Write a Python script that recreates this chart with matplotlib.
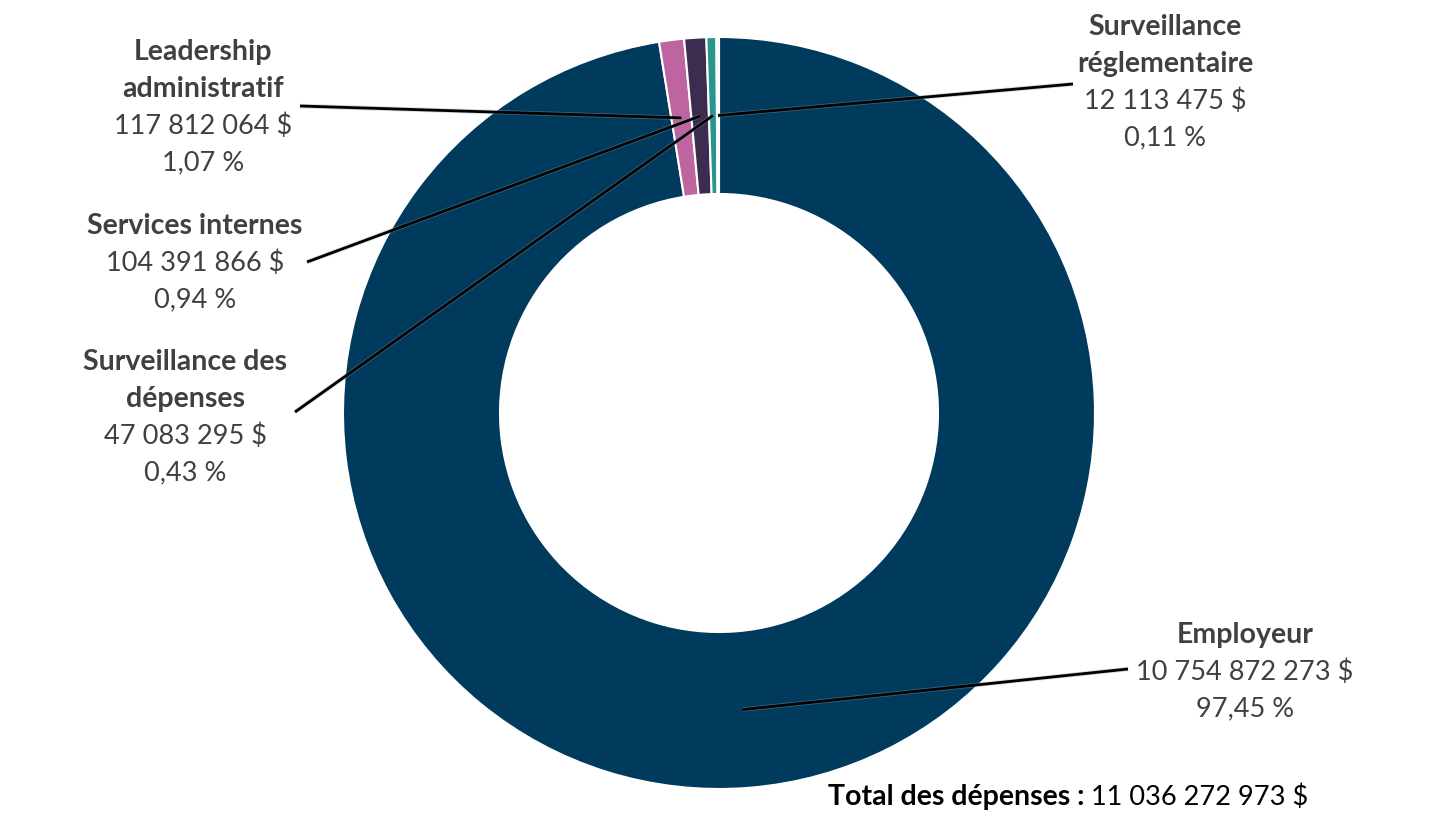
import numpy as np
import matplotlib.pyplot as plt
import matplotlib.patheffects as pe

# data
categories = ["Employeur", "Leadership administratif", "Services internes",
              "Surveillance des dépenses", "Surveillance réglementaire"]
title_lines = [["Employeur"], ["Leadership", "administratif"], ["Services internes"],
               ["Surveillance des", "dépenses"], ["Surveillance", "réglementaire"]]
amounts = [10754872273, 117812064, 104391866, 47083295, 12113475]
amount_labels = ["10 754 872 273 $", "117 812 064 $", "104 391 866 $", "47 083 295 $", "12 113 475 $"]
pct_labels = ["97,45 %", "1,07 %", "0,94 %", "0,43 %", "0,11 %"]
colors = ["#003a5d", "#be64a0", "#3c2d50", "#28968c", "#e8eef2"]
total_label = "11 036 272 973 $"

W, H = 1430, 829
plt.rcParams["font.family"] = ["Lato", "DejaVu Sans"]
fig = plt.figure(figsize=(W / 100, H / 100), dpi=100)
ax = fig.add_axes([0, 0, 1, 1])

cx, cy = 719, H - 414
r_out, r_in = 376, 219
wedges, _ = ax.pie(amounts, colors=colors, startangle=90, counterclock=False,
                   center=(cx, cy), radius=r_out, frame=True,
                   wedgeprops=dict(width=r_out - r_in, edgecolor="white", linewidth=1.5))
ax.set_xlim(0, W)
ax.set_ylim(0, H)
ax.set_aspect("equal")
ax.axis("off")

# label layout (image pixel coords): text center x, first line y, leader end
layout = {
    0: dict(x=1245, y=635, end=(1128, 670)),
    1: dict(x=203, y=52, end=(300, 107)),
    2: dict(x=195, y=226, end=(307, 263)),
    3: dict(x=185, y=362, end=(295, 413)),
    4: dict(x=1165, y=27, end=(1073, 85)),
}
step = 37
txt_color = "#404040"
fs_reg, fs_bold = 19.5, 20.5
r_mid = (r_out + r_in) / 2
glow = [pe.withStroke(linewidth=3.2, foreground="#8aa2b4", alpha=0.4)]

for i, w in enumerate(wedges):
    ang = np.deg2rad((w.theta1 + w.theta2) / 2)
    ax_pt = (cx + r_mid * np.cos(ang), cy + r_mid * np.sin(ang))
    lay = layout[i]
    ex, ey = lay["end"]
    ax.plot([ax_pt[0], ex], [ax_pt[1], H - ey], color="black", lw=2,
            solid_capstyle="butt", path_effects=glow, zorder=5)
    y = lay["y"]
    for t in title_lines[i]:
        ax.text(lay["x"], H - y, t, ha="center", va="center", fontsize=fs_bold,
                fontweight="bold", color=txt_color)
        y += step
    ax.text(lay["x"], H - y, amount_labels[i], ha="center", va="center",
            fontsize=fs_reg, color=txt_color)
    y += step
    ax.text(lay["x"], H - y, pct_labels[i], ha="center", va="center",
            fontsize=fs_reg, color=txt_color)

bold = ax.text(828, H - 797, "Total des dépenses :", ha="left", va="center",
               fontsize=fs_bold, fontweight="bold", color="black")
ax.annotate(" " + total_label, xy=(1, 0.5), xycoords=bold, ha="left", va="center",
            fontsize=fs_reg, color="black")

fig.savefig("out.png", dpi=100, facecolor="white")
